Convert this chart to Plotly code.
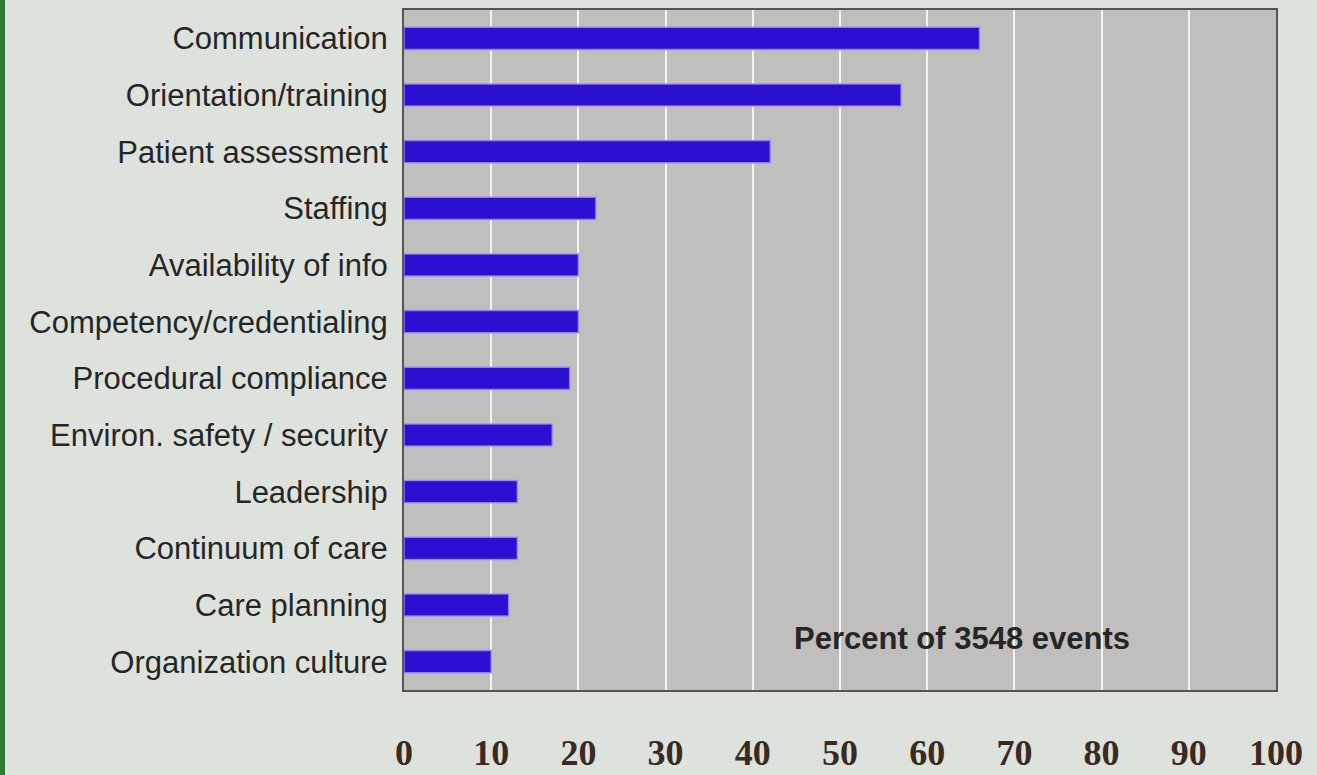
import plotly.graph_objects as go

categories = [
    "Communication",
    "Orientation/training",
    "Patient assessment",
    "Staffing",
    "Availability of info",
    "Competency/credentialing",
    "Procedural compliance",
    "Environ. safety / security",
    "Leadership",
    "Continuum of care",
    "Care planning",
    "Organization culture",
]
percent_values = [66, 57, 42, 22, 20, 20, 19, 17, 13, 13, 12, 10]
x_tick_values = [0, 10, 20, 30, 40, 50, 60, 70, 80, 90, 100]
x_tick_labels = [str(v) for v in x_tick_values]
annotation_text = "Percent of 3548 events"

W, H = 1317, 775
ML, MR, MT, MB = 404, 41, 10, 85
plot_w = W - ML - MR
plot_h = H - MT - MB

fig = go.Figure()
fig.add_trace(go.Bar(
    x=percent_values,
    y=categories,
    orientation="h",
    width=0.39,
    marker=dict(color="#2b10d4", line=dict(color="rgba(150,140,235,0.85)", width=1.5)),
    hoverinfo="x+y",
))

fig.update_layout(
    width=W, height=H,
    margin=dict(l=ML, r=MR, t=MT, b=MB, pad=0, autoexpand=False),
    paper_bgcolor="#dde2dd",
    plot_bgcolor="#c1bfbd",
    showlegend=False,
    font=dict(family="Arial, Liberation Sans, sans-serif", color="#262626"),
)

fig.update_xaxes(
    range=[0, 100],
    tickvals=x_tick_values,
    ticktext=x_tick_labels,
    showgrid=True, gridcolor="#f2f2f0", gridwidth=2,
    zeroline=False,
    showline=True, linecolor="#555555", linewidth=2, mirror=True,
    ticks="",
    automargin=False,
    ticklabelstandoff=30,
    tickfont=dict(family="Liberation Serif, Times New Roman, serif", size=36,
                  color="#3a2a22", weight="bold"),
    fixedrange=True,
)
fig.update_yaxes(
    categoryorder="array",
    categoryarray=categories,
    autorange="reversed",
    showgrid=False,
    zeroline=False,
    showline=True, linecolor="#555555", linewidth=2, mirror=True,
    ticks="",
    automargin=False,
    ticklabelstandoff=8,
    tickfont=dict(family="Arial, Liberation Sans, sans-serif", size=31, color="#262626"),
    fixedrange=True,
)

fig.add_annotation(
    text="<b>" + annotation_text + "</b>",
    xref="x", yref="paper",
    x=64, y=(H - MB - 638) / plot_h,
    showarrow=False,
    font=dict(family="Arial, Liberation Sans, sans-serif", size=31, color="#262626"),
    xanchor="center", yanchor="middle",
)

# green slide edge on the far left
fig.add_shape(
    type="rect", xref="paper", yref="paper",
    x0=-ML / plot_w, x1=(-ML + 5) / plot_w, y0=-MB / plot_h, y1=1 + MT / plot_h,
    fillcolor="#2f7a32", line=dict(width=0), layer="below",
)

fig.write_html("out.html")
